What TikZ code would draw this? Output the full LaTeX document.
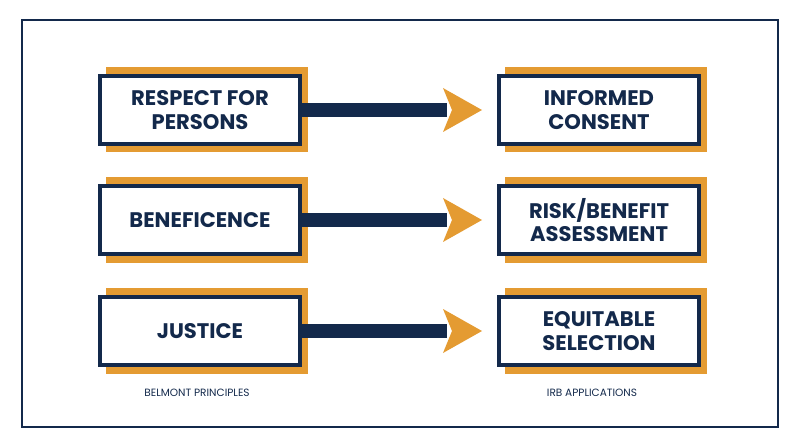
\documentclass[tikz,border=0pt]{standalone}
\usepackage{fontspec}
\setmainfont{Poppins}
\usetikzlibrary{positioning}
\definecolor{navy}{HTML}{13294B}
\definecolor{gold}{HTML}{E49B32}
\tikzstyle{principle} = [draw=navy, line width=1.2mm, fill=white, minimum width=60mm, minimum height=20.5mm, align=center, text=navy, font=\bfseries\fontsize{18}{20}\selectfont]
\tikzstyle{backing} = [fill=gold, minimum width=60.5mm, minimum height=25.5mm]
\tikzstyle{shaft} = [draw=navy, line width=4.2mm]
\tikzstyle{caption} = [text=navy, font=\fontsize{9}{10}\selectfont]

\begin{document}
\begin{tikzpicture}[x=0.3mm,y=-0.3mm]
	\useasboundingbox (0,0) rectangle (800,447);
	\draw[navy, line width=0.5mm] (22,20) rectangle (778,427);
	% rows
	\foreach \row/\lt/\rt [count=\i] in {110/{RESPECT FOR\\PERSONS}/{INFORMED\\CONSENT},
		220/{BENEFICENCE}/{RISK/BENEFIT\\ASSESSMENT},
		331/{JUSTICE}/{EQUITABLE\\SELECTION}}{
		\node[backing] (lb\i) at (207,\row) {};
		\node[backing] (rb\i) at (606,\row) {};
		\node[principle] (l\i) at (200,\row) {\lt};
		\node[principle] (r\i) at (599,\row) {\rt};
		\coordinate (tip\i) at (482,\row);
		\draw[shaft] (l\i.east) -- ([xshift=-30]tip\i);
		\fill[gold] (tip\i) -- ++(-39,-22) -- ++(9,22) -- ++(-9,22) -- cycle;
	}
	\node[caption] (lcap) at (197,393) {BELMONT PRINCIPLES};
	\node[caption] (rcap) at (592,393) {IRB APPLICATIONS};
\end{tikzpicture}
\end{document}
